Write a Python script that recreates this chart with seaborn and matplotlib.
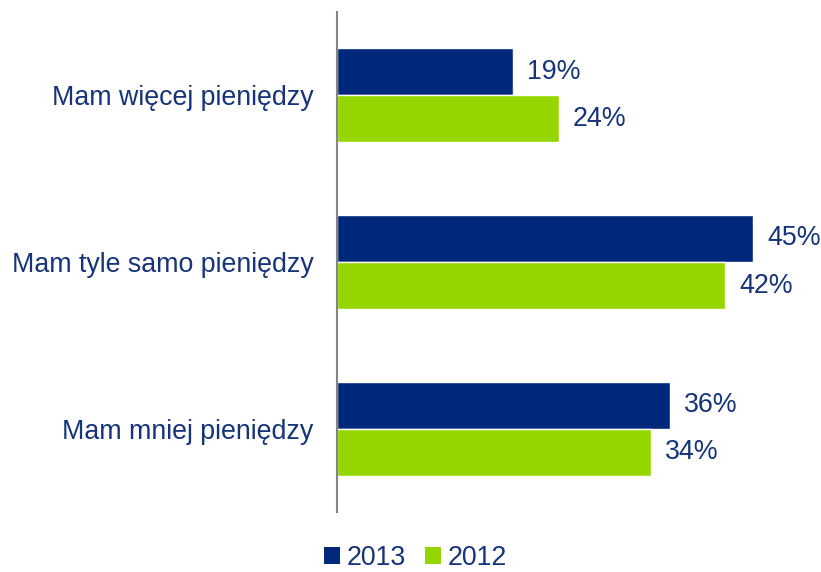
import matplotlib
matplotlib.use("Agg")
import matplotlib.pyplot as plt
import seaborn as sns
import pandas as pd
from matplotlib.patches import Patch

categories = ["Mam więcej pieniędzy", "Mam tyle samo pieniędzy", "Mam mniej pieniędzy"]
years = ["2013", "2012"]
values_2013 = [19, 45, 36]
values_2012 = [24, 42, 34]

navy = "#00287A"
green = "#96D600"
text_color = "#17347A"

df = pd.DataFrame({
    "category": categories * 2,
    "year": [years[0]] * 3 + [years[1]] * 3,
    "value": values_2013 + values_2012,
})

sns.set_theme(style="white")
plt.rcParams["font.family"] = ["Liberation Sans", "DejaVu Sans"]

fig = plt.figure(figsize=(8.21, 5.72), dpi=100)
ax = fig.add_axes([0.4105, 0.105, 0.563, 0.874])

sns.barplot(data=df, y="category", x="value", hue="year", order=categories,
            hue_order=years, palette=[navy, green], orient="h", width=0.565,
            saturation=1, ax=ax, legend=False)

ax.set_xlim(0, 50)
ax.set_ylim(2.5, -0.5)
ax.set_xlabel("")
ax.set_ylabel("")
ax.set_xticks([])

for s in ["top", "right", "bottom"]:
    ax.spines[s].set_visible(False)
ax.spines["left"].set_color("#858585")
ax.spines["left"].set_linewidth(1.5)

ax.tick_params(axis="y", length=0, pad=17, labelsize=19.3, labelcolor=text_color)

for container in ax.containers:
    ax.bar_label(container, labels=[f"{v:.0f}%" for v in container.datavalues],
                 padding=10, fontsize=19.3, color=text_color)

handles = [Patch(facecolor=navy, edgecolor="none"), Patch(facecolor=green, edgecolor="none")]
fig.legend(handles, years, loc="center", bbox_to_anchor=(0.506, 0.024), ncol=2,
           frameon=False, fontsize=19.3, labelcolor=text_color, handlelength=0.6,
           handleheight=0.6, handletextpad=0.25, columnspacing=0.7,
           borderpad=0.1)

fig.savefig("out.png", dpi=100)
